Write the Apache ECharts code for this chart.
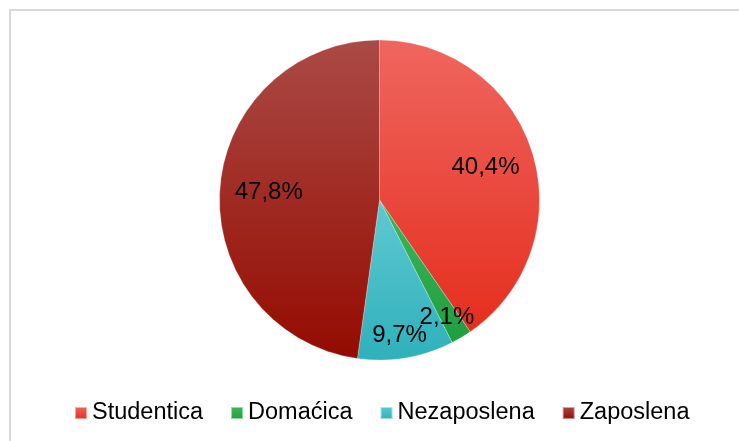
<!DOCTYPE html>
<html>
<head>
<meta charset="utf-8">
<script src="https://cdn.jsdelivr.net/npm/echarts@6/dist/echarts.min.js"></script>
<style>
  html, body { margin: 0; padding: 0; background: #fff; }
  #pieStat { width: 739px; height: 441px; }
</style>
</head>
<body>
<div id="pieStat"></div>
<script>
// 数据
var categories = ['Studentica', 'Domaćica', 'Nezaposlena', 'Zaposlena'];
var values = [40.4, 2.1, 9.7, 47.8];
// gradient top / bottom per slice
var topColors = ['#EF665F', '#3DB65C', '#60C8D2', '#AB4A46'];
var bottomColors = ['#E52E1E', '#209E3E', '#2EB1BB', '#940B00'];
// small slices get their label pushed out near the rim
var outerLabels = [false, true, true, false];

function grad(i) {
    return new echarts.graphic.LinearGradient(0, 0, 0, 1, [
        { offset: 0, color: topColors[i] },
        { offset: 1, color: bottomColors[i] }
    ]);
}

function fmt(p) {
    return p.value.toFixed(1).replace('.', ',') + '%';
}

var myChart = echarts.init(document.getElementById('pieStat'));

var pieData = categories.map(function (name, i) {
    return { name: name, value: values[i], itemStyle: { color: grad(i) } };
});

function labelData(outer) {
    return categories.map(function (name, i) {
        return {
            name: name,
            value: values[i],
            label: { show: outerLabels[i] === outer }
        };
    });
}

var font = 'Liberation Sans, Arial, sans-serif';

var option = {
    animation: false,
    graphic: [{
        type: 'rect',
        shape: { x: 10, y: 10, width: 800, height: 500 },
        style: { fill: 'none', stroke: '#d9d9d9', lineWidth: 2 },
        silent: true,
        z: -10
    }],
    legend: {
        data: categories,
        left: 69,
        top: 396,
        icon: 'rect',
        itemWidth: 12,
        itemHeight: 12,
        itemGap: 27,
        textStyle: { fontSize: 23.5, color: '#000', fontFamily: font }
    },
    series: [{
        type: 'pie',
        center: [379.5, 200],
        radius: [0, 160],
        startAngle: 90,
        clockwise: true,
        label: { show: false },
        labelLine: { show: false },
        itemStyle: { borderColor: 'rgba(255,255,255,0.5)', borderWidth: 0.5 },
        emphasis: { disabled: true },
        data: pieData
    }, {
        // labels for the big slices
        type: 'pie',
        center: [379.5, 200],
        radius: [56, 160],
        startAngle: 90,
        silent: true,
        itemStyle: { color: 'rgba(0,0,0,0)' },
        label: { position: 'inside', formatter: fmt, color: '#000', fontSize: 24, fontFamily: font },
        labelLine: { show: false },
        data: labelData(false)
    }, {
        // labels for the small slices, near the rim (they overlap a little, as in the original)
        type: 'pie',
        center: [379.5, 200],
        radius: [0, 100],
        startAngle: 90,
        silent: true,
        avoidLabelOverlap: false,
        minShowLabelAngle: 0,
        labelLayout: { hideOverlap: false },
        itemStyle: { color: 'rgba(0,0,0,0)' },
        label: { position: 'outside', formatter: fmt, color: '#000', fontSize: 24, fontFamily: font },
        labelLine: { show: false, length: 37, length2: -35 },
        data: labelData(true)
    }]
};

myChart.setOption(option);
</script>
</body>
</html>
